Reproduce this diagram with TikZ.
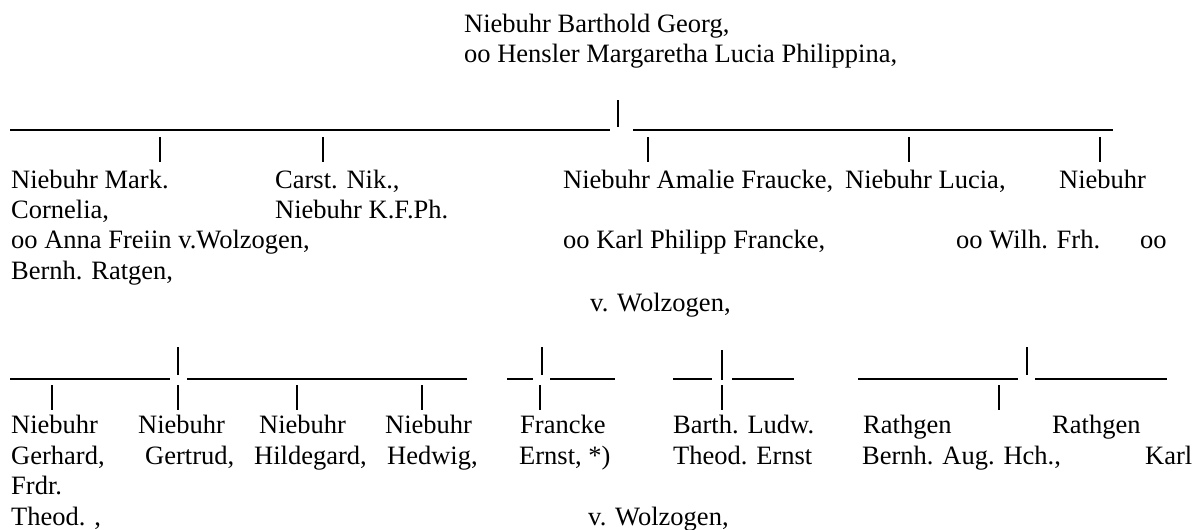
\documentclass[tikz,border=0pt]{standalone}
\usepackage{fontspec}
\setmainfont{Liberation Serif}
\begin{document}
\begin{tikzpicture}[x=1pt,y=-1pt,
  txt/.style={anchor=base west, inner sep=0pt, font=\fontsize{26.5}{30}\selectfont},
  rule/.style={line width=1.3pt},
  bar/.style={line width=1.2pt},
  boldbar/.style={line width=2.6pt}]
\useasboundingbox (0,0) rectangle (1200,530);
% title
\node[txt] (t1) at (464,32) {Niebuhr Barthold Georg,};
\node[txt] (t2) at (464,62) {oo Hensler Margaretha Lucia Philippina,};
% upper tree lines
\draw[rule] (10,130) -- (610,130);
\draw[rule] (633,130) -- (1113,130);
\draw[bar] (618,100) -- (618,127);
\foreach \x in {160,323,648,909,1100} \draw[bar] (\x,137) -- (\x,162);
% first generation
\node[txt] (a1) at (11,188) {Niebuhr Mark.};
\node[txt] (b1) at (275,188) {Carst. Nik.,};
\node[txt] (c1) at (563,188) {Niebuhr Amalie Fraucke,};
\node[txt] (d1) at (845,188) {Niebuhr Lucia,};
\node[txt] (e1) at (1059,188) {Niebuhr};
\node[txt] (a2) at (11,218) {Cornelia,};
\node[txt] (b2) at (275,218) {Niebuhr K.F.Ph.};
\node[txt] (a3) at (11,248) {oo Anna Freiin v.Wolzogen,};
\node[txt] (c3) at (563,248) {oo Karl Philipp Francke,};
\node[txt] (d3) at (956,248) {oo Wilh. Frh.};
\node[txt] (e3) at (1140,248) {oo};
\node[txt] (a4) at (11,279) {Bernh. Ratgen,};
\node[txt] (d5) at (590,311) {v. Wolzogen,};
% lower tree lines
\draw[rule] (10,379) -- (170,379);
\draw[rule] (187,379) -- (467,379);
\draw[rule] (507,379) -- (533,379);
\draw[rule] (550,379) -- (615,379);
\draw[rule] (673,379) -- (712,379);
\draw[rule] (732,379) -- (794,379);
\draw[rule] (858,379) -- (1018,379);
\draw[rule] (1035,379) -- (1167,379);
\foreach \x in {178,542,1027} \draw[bar] (\x,347) -- (\x,375);
\draw[boldbar] (722,350) -- (722,380);
\foreach \x in {52,178,297,422,540,722,999} \draw[bar] (\x,385) -- (\x,410);
% second generation
\node[txt] (g1) at (11,433) {Niebuhr};
\node[txt] (h1) at (138,433) {Niebuhr};
\node[txt] (i1) at (259,433) {Niebuhr};
\node[txt] (j1) at (385,433) {Niebuhr};
\node[txt] (k1) at (520,433) {Francke};
\node[txt] (l1) at (673,433) {Barth. Ludw.};
\node[txt] (m1) at (863,433) {Rathgen};
\node[txt] (n1) at (1052,433) {Rathgen};
\node[txt] (g2) at (11,464) {Gerhard,};
\node[txt] (h2) at (145,464) {Gertrud,};
\node[txt] (i2) at (254,464) {Hildegard,};
\node[txt] (j2) at (387,464) {Hedwig,};
\node[txt] (k2) at (519,464) {Ernst, *)};
\node[txt] (l2) at (673,464) {Theod. Ernst};
\node[txt] (m2) at (862,464) {Bernh. Aug. Hch.,};
\node[txt] (n2) at (1145,464) {Karl};
\node[txt] (g3) at (11,494) {Frdr.};
\node[txt] (g4) at (11,525) {Theod. ,};
\node[txt] (l4) at (588,525) {v. Wolzogen,};
\end{tikzpicture}
\end{document}
